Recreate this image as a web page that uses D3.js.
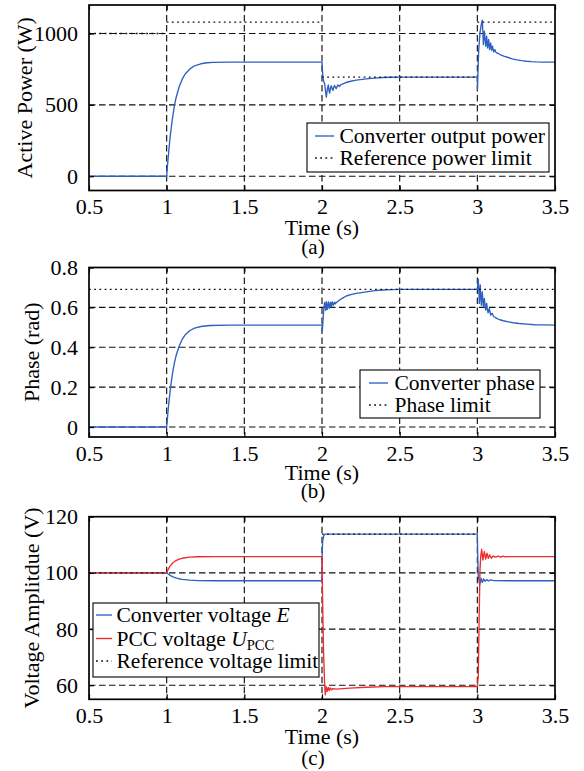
<!DOCTYPE html>
<html>
<head>
<meta charset="utf-8">
<script src="https://cdn.jsdelivr.net/npm/d3@7"></script>
<style>
  html, body { margin: 0; padding: 0; background: #fff; }
  svg { display: block; }
</style>
</head>
<body>
<svg id="chart" width="584" height="771"></svg>
<script>
// ---------------- DATA ----------------
const timeTicks = [0.5, 1, 1.5, 2, 2.5, 3, 3.5];
const timeTickLabels = ["0.5", "1", "1.5", "2", "2.5", "3", "3.5"];

const powerTicks = [0, 500, 1000];
const phaseTicks = [0, 0.2, 0.4, 0.6, 0.8];
const voltageTicks = [60, 80, 100, 120];

// Converter output power (W): [time, value]
const powerOut = [
  [0.5,0],[1.0,0],[1.005,70],[1.01,135],[1.02,250],[1.03,345],[1.04,425],[1.05,495],[1.06,548],
  [1.08,625],[1.10,680],[1.12,718],[1.15,752],[1.18,774],[1.22,788],[1.26,795],[1.30,798],[1.40,800],[2.0,800],
  [2.003,740],[2.006,695],[2.012,660],[2.017,650],[2.022,600],[2.028,554],[2.034,610],[2.041,640],[2.045,600],
  [2.049,582],[2.055,620],[2.060,634],[2.066,610],[2.071,601],[2.076,625],[2.081,636],[2.087,620],[2.092,615],
  [2.098,632],[2.103,640],[2.108,633],[2.113,629],[2.12,640],[2.135,648],[2.15,655],[2.178,664],[2.22,673],
  [2.285,682],[2.34,688],[2.392,692],[2.45,694],[2.5,695],[3.0,695],
  [3.001,610],[3.005,760],[3.009,887],[3.017,1004],[3.025,1060],[3.032,1094],[3.036,1000],[3.039,922],[3.042,980],
  [3.045,1016],[3.050,960],[3.054,911],[3.057,950],[3.060,981],[3.063,940],[3.066,899],[3.070,930],[3.073,958],
  [3.076,920],[3.079,887],[3.083,915],[3.086,934],[3.089,905],[3.092,883],[3.095,900],[3.098,911],[3.101,890],
  [3.105,871],[3.109,880],[3.113,887],[3.118,872],[3.124,864],[3.135,860],[3.146,853],[3.17,842],[3.199,832],
  [3.225,823],[3.253,816],[3.285,810],[3.317,806],[3.35,803],[3.381,801],[3.42,800],[3.5,800]
];
// Reference power limit: [start, end, value]
const powerLimit = [[0.5,1,1000],[1,2,1080],[2,3,695],[3,3.5,1080]];

// Converter phase (rad)
const phaseOut = [
  [0.5,0],[1.0,0],[1.005,0.045],[1.01,0.09],[1.02,0.165],[1.03,0.228],[1.04,0.28],[1.05,0.322],[1.06,0.356],
  [1.08,0.405],[1.10,0.44],[1.12,0.463],[1.15,0.484],[1.18,0.496],[1.22,0.504],[1.28,0.509],[1.4,0.511],[2.0,0.511],
  [2.002,0.482],[2.006,0.53],[2.011,0.586],[2.017,0.625],[2.024,0.585],[2.028,0.628],[2.034,0.590],[2.041,0.628],
  [2.047,0.595],[2.054,0.626],[2.060,0.603],[2.066,0.628],[2.073,0.611],[2.081,0.626],[2.087,0.618],[2.092,0.625],
  [2.10,0.628],[2.113,0.637],[2.135,0.648],[2.156,0.657],[2.19,0.665],[2.221,0.670],[2.285,0.678],[2.34,0.684],
  [2.392,0.687],[2.45,0.689],[2.5,0.690],[3.0,0.690],
  [3.003,0.715],[3.006,0.741],[3.010,0.68],[3.013,0.620],[3.016,0.67],[3.019,0.712],[3.022,0.66],[3.026,0.611],
  [3.029,0.645],[3.032,0.678],[3.035,0.64],[3.039,0.603],[3.042,0.625],[3.045,0.645],[3.050,0.61],[3.054,0.586],
  [3.057,0.603],[3.060,0.620],[3.064,0.595],[3.069,0.573],[3.073,0.585],[3.077,0.595],[3.081,0.578],[3.086,0.561],
  [3.091,0.567],[3.096,0.570],[3.101,0.56],[3.107,0.553],[3.115,0.55],[3.124,0.545],[3.145,0.538],[3.167,0.533],
  [3.2,0.527],[3.231,0.523],[3.27,0.519],[3.317,0.516],[3.37,0.513],[3.424,0.512],[3.5,0.511]
];
const phaseLimit = [[0.5,3.5,0.69]];

// Converter voltage E (V)
const voltageE = [
  [0.5,100],[1.0,100],[1.01,99.6],[1.02,99.2],[1.04,98.6],[1.06,98.2],[1.08,97.9],[1.1,97.7],[1.15,97.4],
  [1.2,97.25],[1.3,97.2],[2.0,97.2],
  [2.001,105.8],[2.004,111.1],[2.011,113.2],[2.019,113.8],[3.0,113.8],
  [3.003,105],[3.006,99],[3.015,95.7],[3.024,98.1],[3.032,96.6],[3.041,97.9],[3.049,97.0],[3.060,97.6],
  [3.071,97.15],[3.086,97.5],[3.107,97.26],[3.2,97.2],[3.5,97.2]
];
// PCC voltage U_PCC (V)
const voltagePCC = [
  [0.5,100],[1.0,100],[1.01,101.3],[1.02,102.3],[1.04,103.6],[1.06,104.4],[1.08,104.9],[1.1,105.2],[1.15,105.6],
  [1.2,105.75],[1.3,105.8],[2.0,105.8],
  [2.004,90],[2.010,72],[2.017,60],[2.021,56.6],[2.028,59.5],[2.034,57.8],[2.041,59.2],[2.047,58.1],[2.054,59.0],
  [2.062,58.4],[2.071,58.8],[2.092,58.6],[2.178,59.0],[2.285,59.3],[2.4,59.5],[3.0,59.5],
  [3.006,63.1],[3.012,85],[3.017,101],[3.022,106],[3.028,108.4],[3.036,104.6],[3.045,107.6],[3.054,104.9],
  [3.062,107.0],[3.071,105.2],[3.079,106.4],[3.090,105.2],[3.101,106.0],[3.118,105.6],[3.135,106.0],[3.15,105.6],
  [3.165,105.95],[3.18,105.7],[3.2,105.8],[3.5,105.8]
];
const voltageLimit = [[0.5,1,100],[2,3,113.8]];

// ---------------- STYLE / LAYOUT ----------------
const FONT = "'Liberation Serif', 'Times New Roman', serif";
const BLUE = "#2f5fc0", RED = "#ee2c2c";
const svg = d3.select("#chart");
const left = 89, right = 555;

const panels = [
  { top: 5, bottom: 190.5, domain: [-100, 1200], ticks: powerTicks, fmt: d => String(d),
    ylabel: "Active Power (W)", ylabelX: 24, timeY: 227, caption: "(a)", captionY: 247,
    series: [{ data: powerOut, color: BLUE }], limit: powerLimit,
    legend: { x0: 307, x1: 549, y0: 123, y1: 172, rows: [136, 158], sx0: 315, sx1: 334, tx: 339.5, fs: 21.5,
      items: [{ type: "line", color: BLUE, text: [["Converter output power"]] },
              { type: "dot", text: [["Reference power limit"]] }] } },
  { top: 267.5, bottom: 437, domain: [-0.05, 0.8], ticks: phaseTicks, fmt: d => d === 0 ? "0" : d3.format(".1f")(d),
    ylabel: "Phase (rad)", ylabelX: 31, timeY: 472, caption: "(b)", captionY: 491,
    series: [{ data: phaseOut, color: BLUE }], limit: phaseLimit,
    legend: { x0: 360, x1: 540, y0: 370, y1: 418, rows: [383, 405], sx0: 369, sx1: 388, tx: 394.5, fs: 21.5,
      items: [{ type: "line", color: BLUE, text: [["Converter phase"]] },
              { type: "dot", text: [["Phase limit"]] }] } },
  { top: 516.7, bottom: 699.3, domain: [55, 120], ticks: voltageTicks, fmt: d => String(d),
    ylabel: "Voltage Amplitdue (V)", ylabelX: 31, timeY: 736, caption: "(c)", captionY: 758,
    series: [{ data: voltageE, color: BLUE }, { data: voltagePCC, color: RED }], limit: voltageLimit,
    legend: { x0: 93, x1: 319, y0: 603, y1: 677, rows: [615, 638.5, 661], sx0: 96, sx1: 112, tx: 116.5, fs: 21.5,
      items: [{ type: "line", color: BLUE, text: [["Converter voltage "], ["E", "italic"]] },
              { type: "line", color: RED, text: [["PCC voltage "], ["U", "italic"], ["PCC", "sub"]] },
              { type: "dot", text: [["Reference voltage limit"]] }] } }
];

const x = d3.scaleLinear().domain([0.5, 3.5]).range([left, right]);

function txt(sel, size) {
  return sel.style("font-family", FONT).style("font-size", size + "px").style("fill", "#000");
}

panels.forEach(p => {
  const y = d3.scaleLinear().domain(p.domain).range([p.bottom, p.top]);
  const g = svg.append("g");

  // grid
  const gx = timeTicks.filter(t => t > 0.5 && t < 3.5);
  const gy = p.ticks.filter(v => y(v) > p.top + 1 && y(v) < p.bottom - 1);
  g.selectAll(".vg").data(gx).join("line")
    .attr("x1", d => x(d)).attr("x2", d => x(d)).attr("y1", p.top).attr("y2", p.bottom)
    .attr("stroke", "#111").attr("stroke-width", 1.15).attr("stroke-dasharray", "6.5,3.5");
  g.selectAll(".hg").data(gy).join("line")
    .attr("x1", left).attr("x2", right).attr("y1", d => y(d)).attr("y2", d => y(d))
    .attr("stroke", "#111").attr("stroke-width", 1.15).attr("stroke-dasharray", "6.5,3.5");

  // data
  const line = d3.line().x(d => x(d[0])).y(d => y(d[1]));
  p.series.forEach(s => {
    g.append("path").datum(s.data).attr("d", line)
      .attr("fill", "none").attr("stroke", s.color).attr("stroke-width", 1.35).attr("stroke-linejoin", "round");
  });
  // limit (dotted)
  g.selectAll(".lim").data(p.limit).join("line")
    .attr("x1", d => x(d[0])).attr("x2", d => x(d[1])).attr("y1", d => y(d[2])).attr("y2", d => y(d[2]))
    .attr("stroke", "#111").attr("stroke-width", 1.35).attr("stroke-dasharray", "1.8,3.4");

  // axes (ticks inside)
  const axB = d3.axisBottom(x).tickValues(timeTicks).tickFormat((d, i) => timeTickLabels[i]).tickSizeInner(-5).tickSizeOuter(0).tickPadding(8);
  const axT = d3.axisTop(x).tickValues(timeTicks).tickFormat("").tickSizeInner(-5).tickSizeOuter(0);
  const axL = d3.axisLeft(y).tickValues(p.ticks).tickFormat(p.fmt).tickSizeInner(-5).tickSizeOuter(0).tickPadding(11);
  const axR = d3.axisRight(y).tickValues(p.ticks).tickFormat("").tickSizeInner(-5).tickSizeOuter(0);
  [[axB, `translate(0,${p.bottom})`], [axT, `translate(0,${p.top})`], [axL, `translate(${left},0)`], [axR, `translate(${right},0)`]]
    .forEach(([ax, tr]) => {
      const a = g.append("g").attr("transform", tr).call(ax);
      a.select(".domain").remove();
      a.selectAll("line").attr("stroke", "#000").attr("stroke-width", 1.2);
      txt(a.selectAll("text"), 22);
    });

  // frame
  g.append("rect").attr("x", left).attr("y", p.top).attr("width", right - left).attr("height", p.bottom - p.top)
    .attr("fill", "none").attr("stroke", "#000").attr("stroke-width", 1.7);

  // labels
  txt(g.append("text"), 22).attr("x", (left + right) / 2).attr("y", p.timeY).attr("dy", "0.35em")
    .attr("text-anchor", "middle").text("Time (s)");
  txt(g.append("text"), 22).attr("transform", `translate(${p.ylabelX},${(p.top + p.bottom) / 2}) rotate(-90)`)
    .attr("text-anchor", "middle").attr("dy", "0.35em").text(p.ylabel);
  txt(g.append("text"), 21).attr("x", (left + right) / 2 - 9).attr("y", p.captionY).attr("dy", "0.35em")
    .attr("text-anchor", "middle").text(p.caption);

  // legend
  const L = p.legend;
  g.append("rect").attr("x", L.x0).attr("y", L.y0).attr("width", L.x1 - L.x0).attr("height", L.y1 - L.y0)
    .attr("fill", "#fff").attr("stroke", "#000").attr("stroke-width", 1.1);
  L.items.forEach((it, i) => {
    const ry = L.rows[i];
    const ln = g.append("line").attr("x1", L.sx0).attr("x2", L.sx1).attr("y1", ry).attr("y2", ry)
      .attr("stroke-width", 1.35);
    if (it.type === "line") ln.attr("stroke", it.color);
    else ln.attr("stroke", "#111").attr("stroke-dasharray", "1.8,3.4");
    const t = txt(g.append("text"), L.fs).attr("x", L.tx).attr("y", ry + 7);
    it.text.forEach(([s, style]) => {
      const ts = t.append("tspan").text(s);
      if (style === "italic") ts.style("font-style", "italic");
      if (style === "sub") ts.style("font-size", (L.fs * 0.68) + "px").attr("dy", 4);
    });
  });
});
</script>
</body>
</html>
